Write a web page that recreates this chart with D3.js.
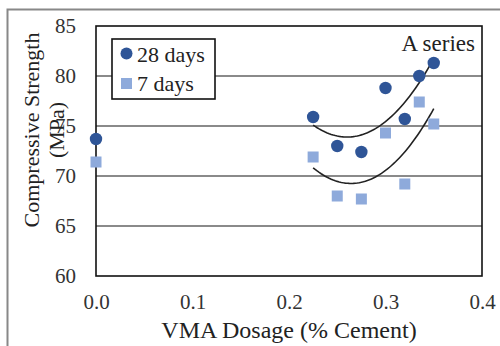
<!DOCTYPE html>
<html><head><meta charset="utf-8">
<script src="https://cdn.jsdelivr.net/npm/d3@7"></script>
</head><body style="margin:0"><svg id="c" width="500" height="346"></svg>
<script>
const dosage28 = [0, 0.225, 0.25, 0.275, 0.30, 0.32, 0.335, 0.35];
const strength28 = [73.7, 75.9, 73.0, 72.4, 78.8, 75.7, 80.0, 81.3];
const dosage7 = [0, 0.225, 0.25, 0.275, 0.30, 0.32, 0.335, 0.35];
const strength7 = [71.4, 71.9, 68.0, 67.7, 74.3, 69.2, 77.4, 75.2];
const xTicks = [0, 0.1, 0.2, 0.3, 0.4];
const yTicks = [60, 65, 70, 75, 80, 85];
const seriesNames = ["28 days", "7 days"];
const colors = ["#2F5597", "#8EAADB"];
const FONT = "Liberation Serif";

const svg = d3.select("#c");
const m = {l: 96, r: 482, t: 26, b: 276};
const x = d3.scaleLinear().domain([0, 0.4]).range([m.l, m.r]);
const y = d3.scaleLinear().domain([60, 85]).range([m.b, m.t]);

svg.append("path").attr("d", "M7.5,520 L7.5,9.5 L520,9.5").attr("fill", "none").attr("stroke", "#888").attr("stroke-width", 2);

svg.append("g").selectAll("line").data(yTicks.filter(v => v > 60 && v < 85)).join("line")
  .attr("x1", m.l).attr("x2", m.r).attr("y1", d => y(d)).attr("y2", d => y(d))
  .attr("stroke", "#8a8a8a").attr("stroke-width", 1.8);

const gy = svg.append("g").attr("transform", `translate(${m.l},0)`)
  .call(d3.axisLeft(y).tickValues(yTicks).tickSize(0).tickPadding(20).tickFormat(d3.format("d")));
gy.select(".domain").remove();
gy.attr("font-family", null).attr("font-size", null);
gy.selectAll("text").attr("fill", "#333").style("font-family", FONT).style("font-size", "21px");
const gx = svg.append("g").attr("transform", `translate(0,${m.b})`)
  .call(d3.axisBottom(x).tickValues(xTicks).tickSize(0).tickPadding(18).tickFormat(d3.format(".1f")));
gx.select(".domain").remove();
gx.attr("font-family", null).attr("font-size", null);
gx.selectAll("text").attr("fill", "#333").style("font-family", FONT).style("font-size", "21px");

svg.append("rect").attr("x", m.l).attr("y", m.t).attr("width", m.r - m.l).attr("height", m.b - m.t)
  .attr("fill", "none").attr("stroke", "#111").attr("stroke-width", 1.6);

function quadFit(xs, ys) {
  const pts = xs.map((v, i) => [v, ys[i]]).filter(p => p[0] > 0);
  let S = [0,0,0,0,0], T = [0,0,0];
  pts.forEach(([a, b]) => { for (let k = 0; k < 5; k++) S[k] += a ** k; for (let k = 0; k < 3; k++) T[k] += b * a ** k; });
  const A = [[S[0],S[1],S[2],T[0]],[S[1],S[2],S[3],T[1]],[S[2],S[3],S[4],T[2]]];
  for (let i = 0; i < 3; i++) { for (let j = i+1; j < 3; j++) { const f = A[j][i]/A[i][i]; for (let k = i; k < 4; k++) A[j][k] -= f*A[i][k]; } }
  const c = [0,0,0];
  for (let i = 2; i >= 0; i--) { let s = A[i][3]; for (let k = i+1; k < 3; k++) s -= A[i][k]*c[k]; c[i] = s/A[i][i]; }
  const x0 = d3.min(pts, p => p[0]), x1 = d3.max(pts, p => p[0]);
  return d3.range(0, 61).map(i => { const v = x0 + (x1 - x0) * i / 60; return [v, c[0] + c[1]*v + c[2]*v*v]; });
}
const line = d3.line().x(d => x(d[0])).y(d => y(d[1]));
[[dosage28, strength28], [dosage7, strength7]].forEach(([xs, ys]) => {
  svg.append("path").attr("d", line(quadFit(xs, ys))).attr("fill", "none").attr("stroke", "#222").attr("stroke-width", 1.6);
});

svg.append("g").selectAll("rect").data(dosage7.map((d, i) => [d, strength7[i]])).join("rect")
  .attr("x", d => x(d[0]) - 5.5).attr("y", d => y(d[1]) - 5.5).attr("width", 11).attr("height", 11).attr("fill", colors[1]);
svg.append("g").selectAll("circle").data(dosage28.map((d, i) => [d, strength28[i]])).join("circle")
  .attr("cx", d => x(d[0])).attr("cy", d => y(d[1])).attr("r", 6.2).attr("fill", colors[0]);

const lg = svg.append("g");
lg.append("rect").attr("x", 112).attr("y", 39).attr("width", 103).attr("height", 60).attr("fill", "#fff").attr("stroke", "#111").attr("stroke-width", 1.6);
lg.append("circle").attr("cx", 126.5).attr("cy", 53.5).attr("r", 6).attr("fill", colors[0]);
lg.append("rect").attr("x", 121).attr("y", 78).attr("width", 11).attr("height", 11).attr("fill", colors[1]);
lg.selectAll("text.l").data(seriesNames).join("text").attr("class", "l")
  .attr("x", 137).attr("y", (d, i) => 61.5 + i * 29.5).style("font-family", FONT).style("font-size", "22px").attr("fill", "#222").text(d => d);

svg.append("text").attr("x", 475).attr("y", 51).attr("text-anchor", "end").style("font-family", FONT).style("font-size", "23px").attr("fill", "#222").text("A series");

svg.append("text").attr("x", (m.l + m.r) / 2).attr("y", 338).attr("text-anchor", "middle").style("font-family", FONT).style("font-size", "24px").attr("fill", "#222").text("VMA Dosage (% Cement)");
const yt = svg.append("text").attr("transform", "translate(0,130) rotate(-90)").attr("text-anchor", "middle").style("font-family", FONT).style("font-size", "22px").attr("fill", "#222");
yt.append("tspan").attr("x", 0).attr("y", 39).text("Compressive Strength");
yt.append("tspan").attr("x", 0).attr("y", 64).text("(MPa)");
</script></body></html>
